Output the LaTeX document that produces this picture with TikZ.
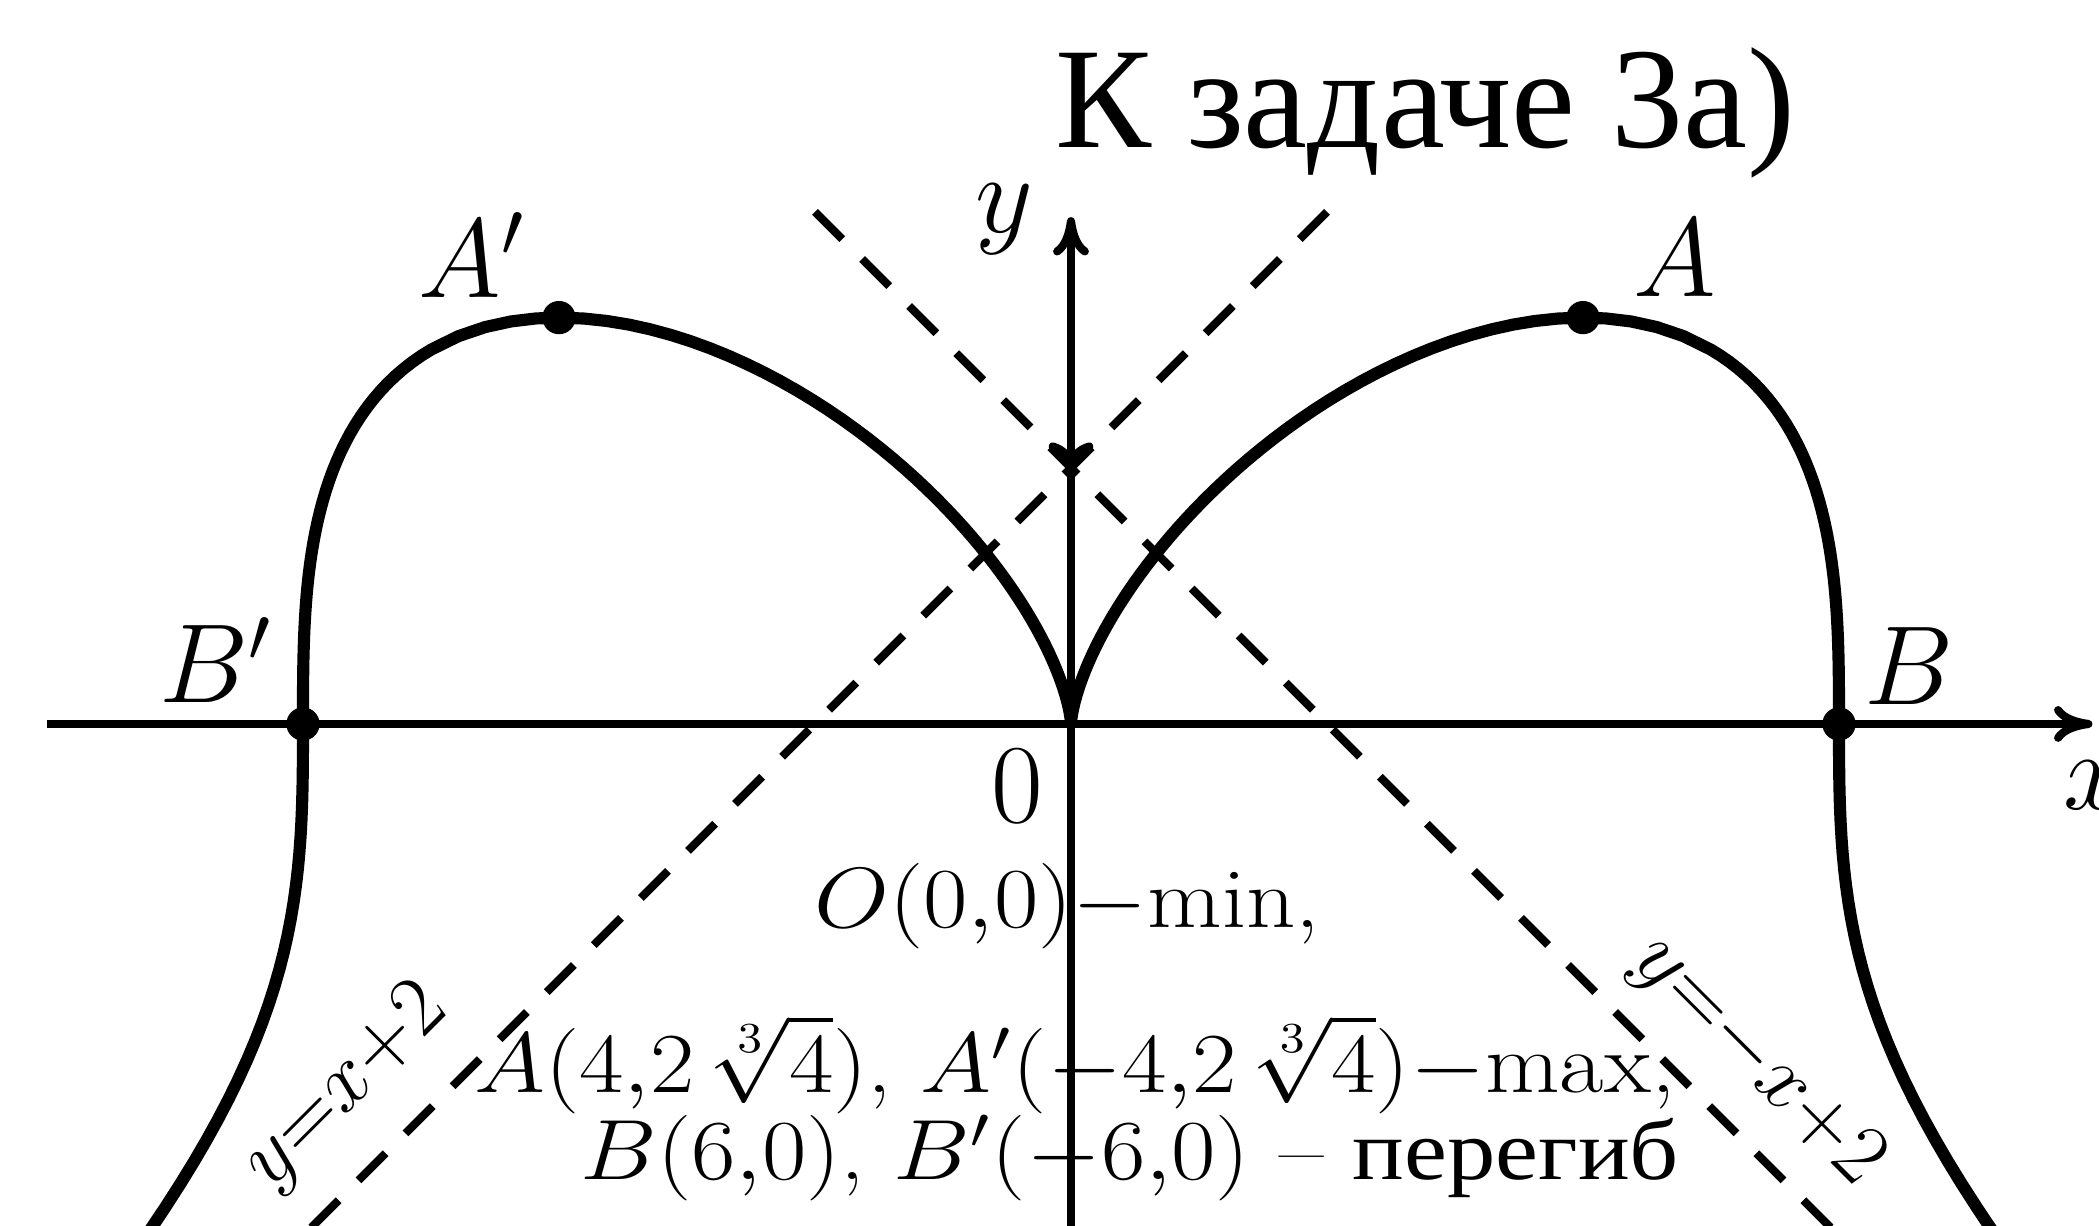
\RequirePackage{fix-cm}
\documentclass[tikz,border=0pt]{standalone}
\usepackage{amsmath,amssymb}
\usepackage{fontspec}
\newfontfamily\rufont{Liberation Serif}
\usepackage{tikz}
\usetikzlibrary{arrows.meta}

\begin{document}
\begin{tikzpicture}[
  axis/.style={line width=1.8pt, -{Computer Modern Rightarrow[length=3mm,width=2.8mm]}},
  curve/.style={line width=2.7pt, line join=round},
  asym/.style={line width=1.8pt, dash pattern=on 3mm off 2.2mm},
  pt/.style={circle, fill, inner sep=0pt, minimum size=2.6mm},
  lbl/.style={font=\fontsize{25}{27}\selectfont, inner sep=0pt},
  txt/.style={font=\fontsize{19}{21}\selectfont, inner sep=0pt}
]
  \useasboundingbox (-8.367,-3.922) rectangle (8.031,5.656);
  \clip (-8.367,-3.922) rectangle (8.031,5.656);

  \draw[asym] (2,4) -- (-6.4,-4.4);
  \draw[asym] (-2,4) -- (6.4,-4.4);

  \draw[axis] (-8,0) -- (7.98,0);
  \draw[axis] (0,-4.2) -- (0,3.96);
  \draw[line width=1.8pt, -{Computer Modern Rightarrow[length=2mm,width=3.5mm]}] (0,2.4) -- (0,2);

  \draw[curve] plot[domain=0:1.70998, samples=70] ({\x^3},{\x*\x*pow(6-\x^3,1/3)})
    -- plot[domain=1:0, samples=40] ({6-\x^3},{\x*pow(6-\x^3,2/3)})
    -- plot[domain=0:1.1, samples=30] ({6+\x^3},{-\x*pow(6+\x^3,2/3)});
  \draw[curve, xscale=-1] plot[domain=0:1.70998, samples=70] ({\x^3},{\x*\x*pow(6-\x^3,1/3)})
    -- plot[domain=1:0, samples=40] ({6-\x^3},{\x*pow(6-\x^3,2/3)})
    -- plot[domain=0:1.1, samples=30] ({6+\x^3},{-\x*pow(6+\x^3,2/3)});

  \node[pt] (A) at (4,{2*pow(4,1/3)}) {};
  \node[pt] (Ap) at (-4,{2*pow(4,1/3)}) {};
  \node[pt] (B) at (6,0) {};
  \node[pt] (Bp) at (-6,0) {};

  \node[lbl, anchor=base] (lA) at (4.72,3.34) {$A$};
  \node[lbl, anchor=base] (lAp) at (-4.68,3.33) {$A'$};
  \node[lbl, anchor=base] (lB) at (6.55,0.15) {$B$};
  \node[lbl, anchor=base] (lBp) at (-6.68,0.17) {$B'$};
  \node[lbl, anchor=base] (ly) at (-0.52,3.84) {$y$};
  \node[lbl, anchor=base west] (lx) at (7.75,-0.67) {$x$};
  \node[lbl, anchor=base] (l0) at (-0.42,-0.77) {$0$};

  \node[anchor=base west, inner sep=0pt, font=\rufont\fontsize{32}{34}\selectfont] (title) at (-0.13,4.5) {К задаче 3а)};

  \node[txt, anchor=base] (minO) at (-0.03,-1.59) {\scalebox{1.13}[1]{$O(0{,}0)-$min,}};
  \node[txt, anchor=base] (maxA) at (0.03,-2.88) {\scalebox{1.13}[1]{$A(4{,}2\,\sqrt[3]{4})$, $A'(-4{,}2\,\sqrt[3]{4})-$max,}};
  \node[txt, anchor=base] (infB) at (0.46,-3.56) {\scalebox{1.13}[1]{$B(6{,}0)$, $B'(-6{,}0)$ -- {\rufont перегиб}}};

  \node[txt, rotate=45] (eqL) at (-5.66,-2.84) {$y{=}x{+}2$};
  \node[txt, rotate=-45] (eqR) at (5.36,-2.64) {$y{=}{-}x{+}2$};
\end{tikzpicture}
\end{document}
